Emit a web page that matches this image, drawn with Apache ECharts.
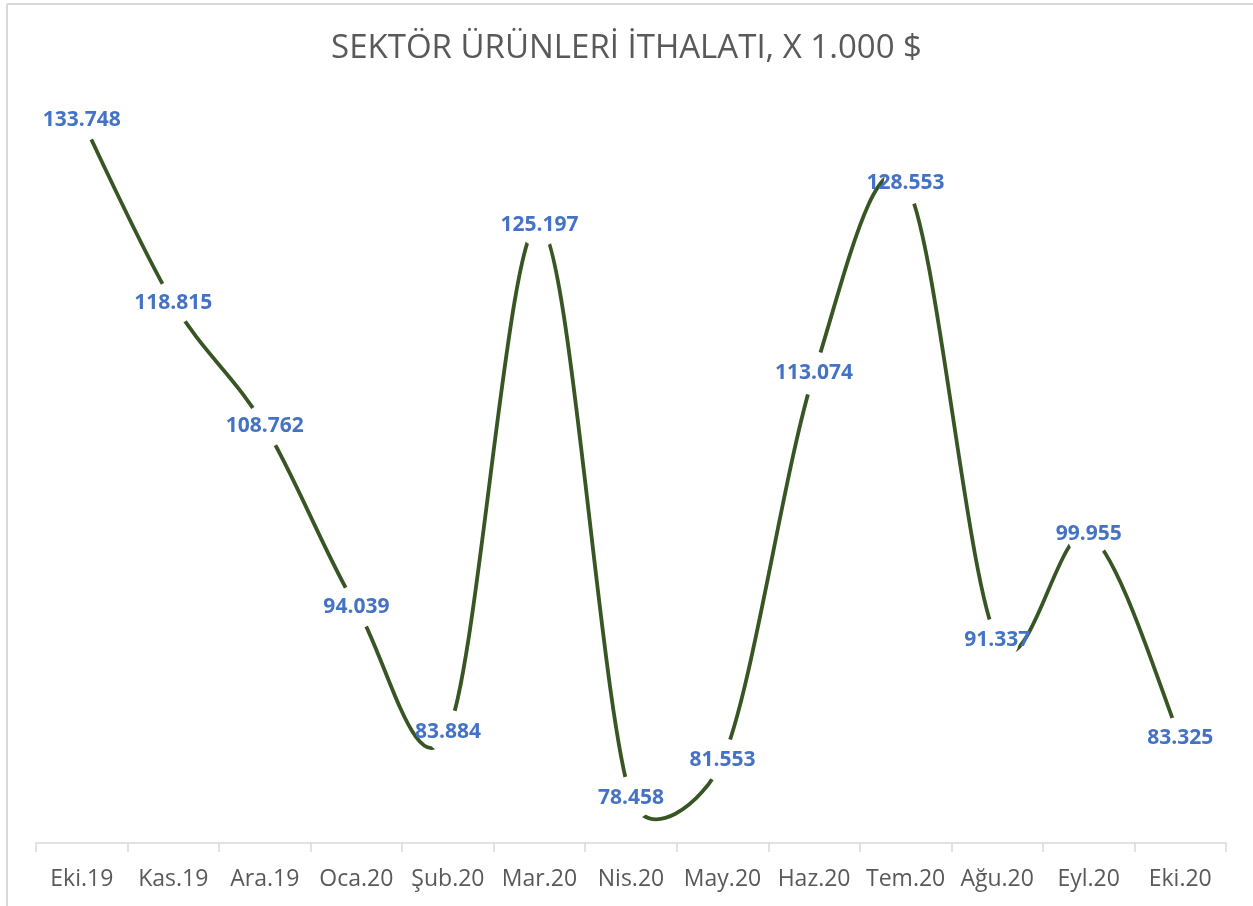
<!DOCTYPE html>
<html>
<head>
<meta charset="utf-8">
<script src="https://cdn.jsdelivr.net/npm/echarts@6/dist/echarts.min.js"></script>
<style>
  html, body { margin: 0; padding: 0; background: #fff; }
  #chart { width: 1253px; height: 906px; }
</style>
</head>
<body>
<div id="chart"></div>
<script>
  // months on the x axis
  const months = ["Eki.19", "Kas.19", "Ara.19", "Oca.20", "Şub.20", "Mar.20", "Nis.20",
    "May.20", "Haz.20", "Tem.20", "Ağu.20", "Eyl.20", "Eki.20"];
  // imports, thousand $
  const imports = [133.748, 118.815, 108.762, 94.039, 83.884, 125.197, 78.458,
    81.553, 113.074, 128.553, 91.337, 99.955, 83.325];

  const fmt = (v) => v.toFixed(3);

  // control point next to p, tangent (b - a)/6, arm capped at half the segment length
  function ctrl(p, a, b, segLen, sign) {
    let dx = (b[0] - a[0]) / 6, dy = (b[1] - a[1]) / 6;
    const len = Math.sqrt(dx * dx + dy * dy);
    const cap = segLen / 2;
    if (len > cap && len > 0) { dx *= cap / len; dy *= cap / len; }
    return [p[0] + sign * dx, p[1] + sign * dy];
  }

  // Excel-like smoothed line, one bezier segment per point
  function renderSegment(params, api) {
    const i = params.dataIndex;
    const n = imports.length;
    if (i >= n - 1) return null;
    const pt = (k) => {
      const j = Math.max(0, Math.min(n - 1, k));
      return api.coord([j, imports[j]]);
    };
    const p0 = pt(i - 1), p1 = pt(i), p2 = pt(i + 1), p3 = pt(i + 2);
    const seg = Math.hypot(p2[0] - p1[0], p2[1] - p1[1]);
    const c1 = ctrl(p1, p0, p2, seg, 1);
    const c2 = ctrl(p2, p1, p3, seg, -1);
    return {
      type: "bezierCurve",
      shape: { x1: p1[0], y1: p1[1], x2: p2[0], y2: p2[1], cpx1: c1[0], cpy1: c1[1], cpx2: c2[0], cpy2: c2[1] },
      style: { stroke: "#375623", lineWidth: 3.8, fill: null }
    };
  }

  const chart = echarts.init(document.getElementById("chart"), null, { renderer: "canvas" });

  chart.setOption({
    animation: false,
    textStyle: { fontFamily: "Open Sans" },
    title: {
      text: "SEKTÖR ÜRÜNLERİ İTHALATI, X 1.000 $",
      left: "center",
      top: 27,
      textStyle: { fontSize: 33, fontWeight: "normal", color: "#595959", fontFamily: "Open Sans" }
    },
    grid: { left: 36, right: 27, top: 43, bottom: 63 },
    xAxis: {
      type: "category",
      data: months,
      boundaryGap: true,
      axisLine: { lineStyle: { color: "#d9d9d9", width: 1.5 } },
      axisTick: { show: true, length: 9, lineStyle: { color: "#d9d9d9", width: 1.5 } },
      axisLabel: { color: "#595959", fontSize: 23, margin: 25, interval: 0 }
    },
    yAxis: {
      type: "value",
      min: 74.8,
      max: 140,
      show: false,
      splitLine: { show: false }
    },
    series: [{
      type: "custom",
      data: imports,
      renderItem: renderSegment,
      clip: false,
      silent: true
    }, {
      // white round markers cut the line around each point, labels sit on top
      type: "line",
      data: imports,
      symbol: "circle",
      symbolSize: 44,
      itemStyle: { color: "#ffffff", borderWidth: 0 },
      lineStyle: { opacity: 0 },
      label: {
        show: true,
        position: "inside",
        color: "#4472C4",
        fontWeight: "bold",
        fontSize: 21,
        formatter: (p) => fmt(p.value)
      },
      emphasis: { disabled: true }
    }],
    graphic: [
      { type: "line", shape: { x1: 7, y1: 4, x2: 1253, y2: 4 }, style: { stroke: "#d9d9d9", lineWidth: 2 } },
      { type: "line", shape: { x1: 7, y1: 4, x2: 7, y2: 906 }, style: { stroke: "#d9d9d9", lineWidth: 2 } }
    ]
  });
</script>
</body>
</html>
